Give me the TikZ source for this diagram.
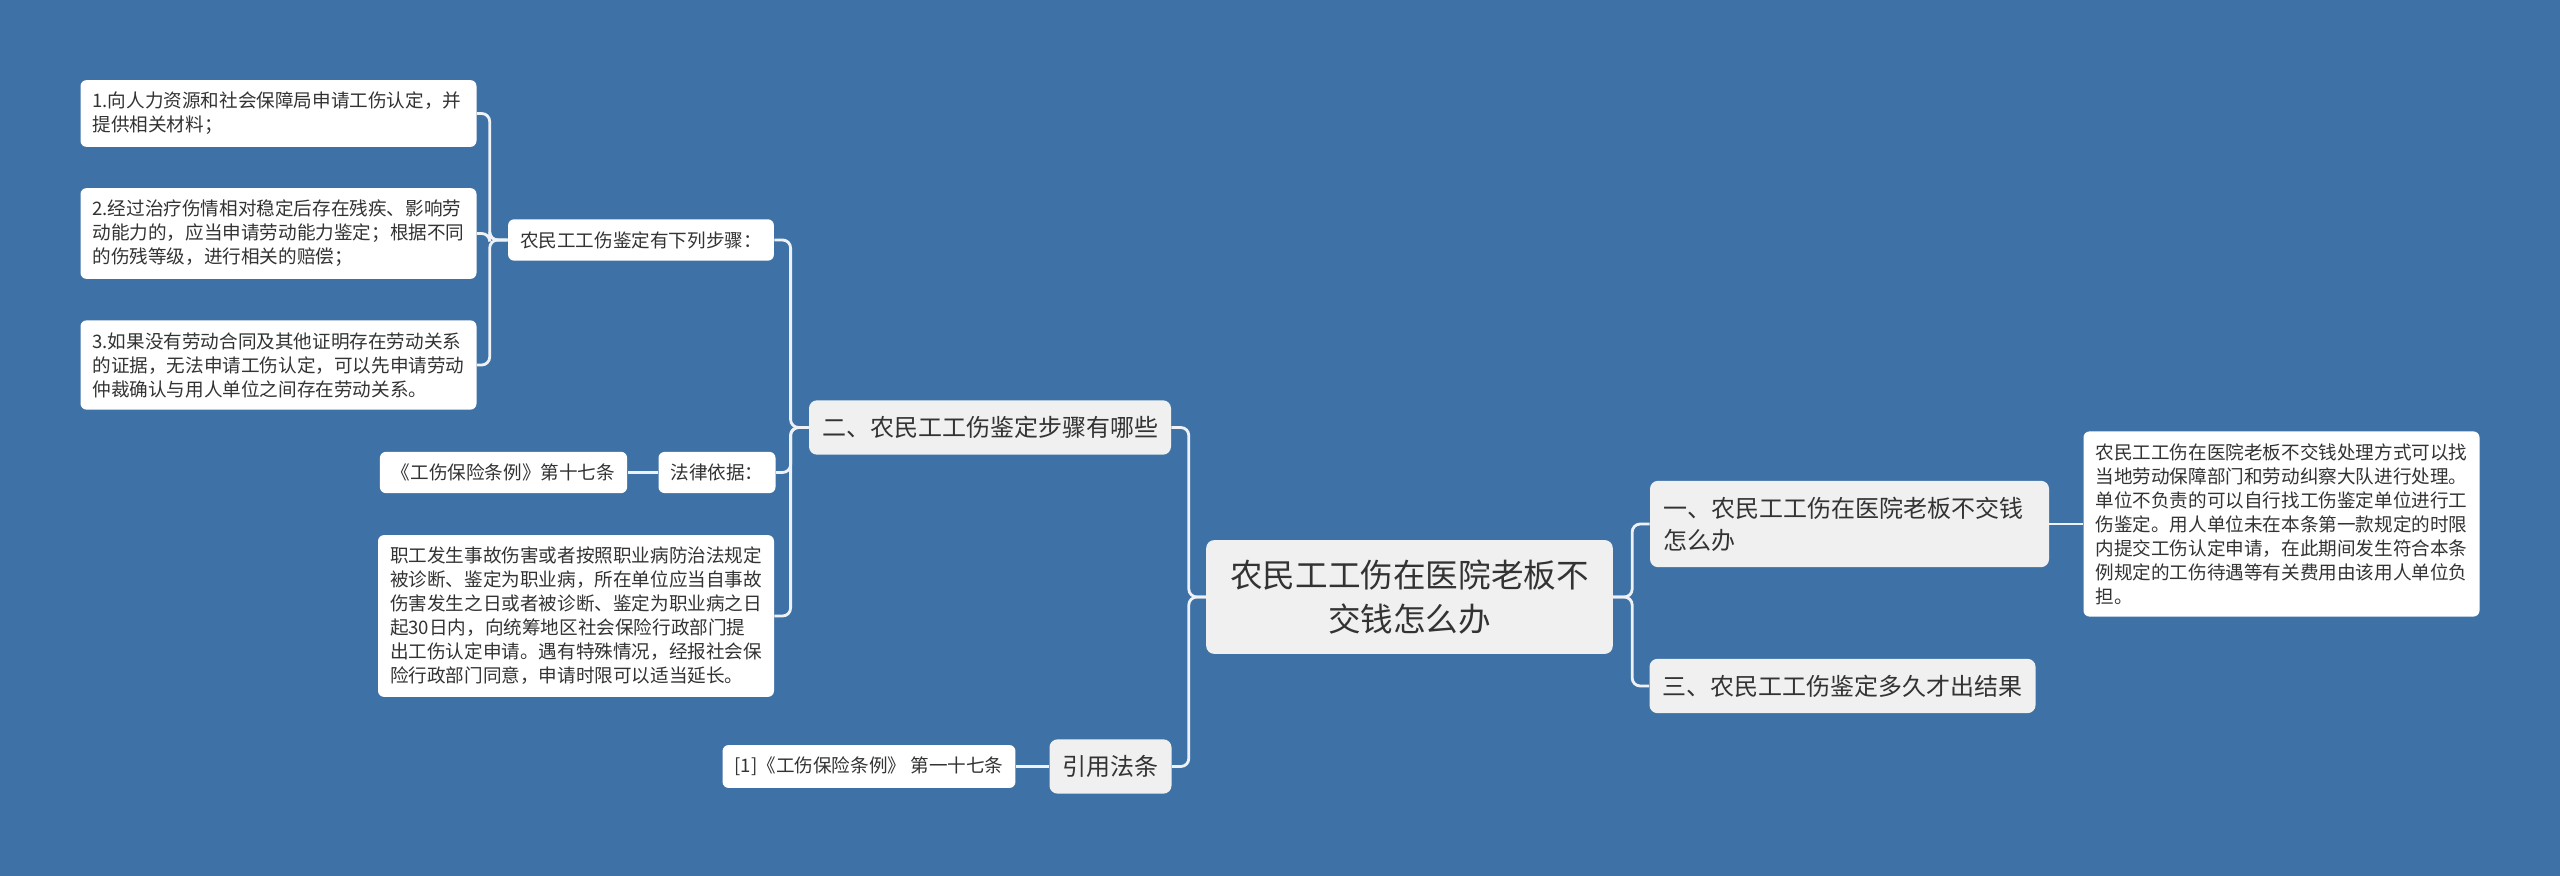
\documentclass[tikz,border=0pt]{standalone}
\usepackage{fontspec}
\setmainfont{Noto Sans CJK SC}
\definecolor{bgblue}{HTML}{3E72A6}
\definecolor{topicgray}{HTML}{F0F0F0}
\definecolor{linkc}{HTML}{EEF2F7}
\definecolor{txt}{HTML}{333333}

\tikzset{link/.style={draw=linkc, line width=1.4pt, rounded corners=4pt}}

\begin{document}
\begin{tikzpicture}[x=0.5pt, y=-0.5pt,
	leaf/.style={fill=white, rounded corners=3pt, text=txt, font=\fontsize{9.3}{12}\selectfont, align=left, inner xsep=6pt, inner ysep=6pt},
	topic/.style={fill=topicgray, rounded corners=4pt, text=txt, font=\fontsize{12}{16}\selectfont, align=left, inner xsep=6.5pt, inner ysep=8pt}]
			\fill[bgblue] (0,0) rectangle (2560,876);
			\useasboundingbox (0,0) rectangle (2560,876);
			
			\node[topic, align=center, font=\fontsize{16.3}{21.7}\selectfont, inner xsep=12pt, inner ysep=10pt] (root) at (1409.5,597) {农民工工伤在医院老板不\\交钱怎么办};
			
			\node[topic, text width=186.5pt] (one) at (1849.5,524) {一、农民工工伤在医院老板不交钱\\怎么办};
			\node[topic] (three) at (1842.5,686) {三、农民工工伤鉴定多久才出结果};
			\node[topic] (two) at (990,427.5) {二、农民工工伤鉴定步骤有哪些};
			\node[topic] (cite) at (1110.5,766.5) {引用法条};
			
			\node[leaf, text width=186pt] (onetxt) at (2281.5,524) {农民工工伤在医院老板不交钱处理方式可以找\\当地劳动保障部门和劳动纠察大队进行处理。\\单位不负责的可以自行找工伤鉴定单位进行工\\伤鉴定。用人单位未在本条第一款规定的时限\\内提交工伤认定申请，在此期间发生符合本条\\例规定的工伤待遇等有关费用由该用人单位负\\担。};
			
			\node[leaf] (steps) at (641,240) {农民工工伤鉴定有下列步骤：};
			\node[leaf, text width=186pt] (s1) at (278.5,113.5) {1.向人力资源和社会保障局申请工伤认定，并\\提供相关材料；};
			\node[leaf, text width=186pt] (s2) at (278.5,233.5) {2.经过治疗伤情相对稳定后存在残疾、影响劳\\动能力的，应当申请劳动能力鉴定；根据不同\\的伤残等级，进行相关的赔偿；};
			\node[leaf, text width=186pt] (s3) at (278.5,365) {3.如果没有劳动合同及其他证明存在劳动关系\\的证据，无法申请工伤认定，可以先申请劳动\\仲裁确认与用人单位之间存在劳动关系。};
			
			\node[leaf] (law) at (717,472.5) {法律依据：};
			\node[leaf] (lawref) at (503.5,472.5) {《工伤保险条例》第十七条};
			\node[leaf, text width=186pt] (basis) at (576,616) {职工发生事故伤害或者按照职业病防治法规定\\被诊断、鉴定为职业病，所在单位应当自事故\\伤害发生之日或者被诊断、鉴定为职业病之日\\起30日内，向统筹地区社会保险行政部门提\\出工伤认定申请。遇有特殊情况，经报社会保\\险行政部门同意，申请时限可以适当延长。};
			
			\node[leaf] (citeref) at (869,766.5) {[1]《工伤保险条例》 第一十七条};
			
			\draw[link] (root.west) -- ++(-17,0) |- (two.east);
			\draw[link] (root.west) -- ++(-17,0) |- (cite.east);
			\draw[link] (root.east) -- ++(19,0) |- (one.west);
			\draw[link] (root.east) -- ++(19,0) |- (three.west);
			\draw[link] (one.east) -- (onetxt.west);
			
			\draw[link] (two.west) -- ++(-18,0) |- (steps.east);
			\draw[link] (two.west) -- ++(-18,0) |- (law.east);
			\draw[link] (two.west) -- ++(-18,0) |- (basis.east);
			\draw[link] (law.west) -- (lawref.east);
			\draw[link] (cite.west) -- (citeref.east);
			
			\draw[link] (steps.west) -- ++(-18,0) |- (s1.east);
			\draw[link] (steps.west) -- ++(-18,0) |- (s2.east);
			\draw[link] (steps.west) -- ++(-18,0) |- (s3.east);
			
		\end{tikzpicture}
\end{document}
